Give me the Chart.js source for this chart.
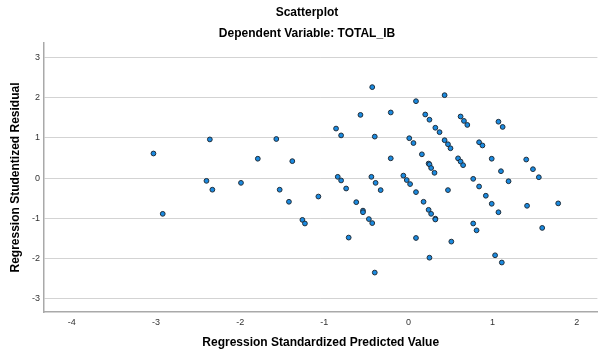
<!DOCTYPE html>
<html>
<head>
<meta charset="utf-8">
<script src="https://cdn.jsdelivr.net/npm/chart.js@4.4.1/dist/chart.umd.min.js"></script>
<style>
  body { margin: 0; background: #fff; }
  #wrap { width: 601px; height: 357px; }
</style>
</head>
<body>
<div id="wrap"><canvas id="scatterChart" width="601" height="357"></canvas></div>
<script>
// values
var chartTitle = 'Scatterplot';
var chartSubtitle = 'Dependent Variable: TOTAL_IB';
var xTitle = 'Regression Standardized Predicted Value';
var yTitle = 'Regression Studentized Residual';

var predictedValues = [
  -2.36, -1.57, -3.03, -1.79, -1.38, -2.40, -2.33, -1.99, -1.53, -1.42, -1.07, -2.92, -1.26, -1.23,
  -0.43, 0.43, 0.09, -0.57, -0.21, 0.20, 0.25, 0.62, 0.66, 0.70, 1.07, 1.12, -0.86, -0.80, -0.40,
  0.32, 0.37, 0.01, 0.06, 0.43, 0.47, 0.50, 0.84, 0.88, -0.21, 0.16, 0.24, 0.25, 0.27, 0.31,
  0.59, 0.62, 0.65, 0.99, 1.40, 1.10, 1.48, 1.55,
  -0.84, -0.80, -0.74, -0.44, -0.39, -0.33, -0.06, -0.02, 0.02, 0.09, 0.18, 0.24, 0.27, 0.32, 0.32,
  0.47, 0.77, 0.84, 0.92, 0.99, 1.07, 1.19, 1.41, 1.78,
  -0.62, -0.54, -0.54, -0.47, -0.43, -0.71, 0.09, 0.51, 0.77, 0.81, 1.59, 0.25, 1.03, 1.11, -0.40
];
var studentizedResiduals = [
  0.96, 0.97, 0.61, 0.48, 0.42, -0.07, -0.29, -0.12, -0.29, -0.59, -0.46, -0.89, -1.04, -1.13,
  2.26, 2.06, 1.91, 1.57, 1.63, 1.58, 1.45, 1.53, 1.42, 1.32, 1.40, 1.27, 1.23, 1.06, 1.03,
  1.25, 1.14, 0.99, 0.87, 0.94, 0.84, 0.74, 0.89, 0.81, 0.49, 0.59, 0.36, 0.34, 0.25, 0.13,
  0.49, 0.41, 0.32, 0.48, 0.46, 0.17, 0.22, 0.02,
  0.03, -0.06, -0.26, 0.03, -0.12, -0.30, 0.06, -0.05, -0.15, -0.35, -0.59, -0.79, -0.89, -1.01, -1.03,
  -0.30, -0.02, -0.21, -0.44, -0.64, -0.85, -0.08, -0.69, -0.63,
  -0.60, -0.81, -0.85, -1.02, -1.12, -1.48, -1.49, -1.58, -1.13, -1.30, -1.24, -1.98, -1.92, -2.10, -2.35
];

var points = predictedValues.map((x, i) => ({ x: x, y: studentizedResiduals[i] }));

var fontFamily = '"Liberation Sans", Arial, sans-serif';

// chart and dependent-variable titles, drawn above the plot area
var titlePlugin = {
  id: 'spssTitles',
  afterDraw(chart) {
    var ctx = chart.ctx;
    ctx.save();
    ctx.fillStyle = '#000';
    ctx.textAlign = 'center';
    ctx.textBaseline = 'middle';
    ctx.font = 'bold 12px ' + fontFamily;
    ctx.fillText(chartTitle, 307, 13);
    ctx.fillText(chartSubtitle, 307, 34);
    ctx.restore();
  }
};

var scatterChart = new Chart(document.getElementById('scatterChart'), {
  type: 'scatter',
  data: {
    datasets: [{
      label: 'Residuals',
      data: points,
      backgroundColor: '#1a8ae0',
      borderColor: '#1f2d3a',
      borderWidth: 1,
      pointRadius: 2.4,
      pointHoverRadius: 2.6
    }]
  },
  options: {
    responsive: false,
    animation: false,
    layout: { padding: { top: 43, left: 0, right: 0, bottom: 0 } },
    plugins: {
      legend: { display: false },
      tooltip: { enabled: false }
    },
    scales: {
      x: {
        type: 'linear',
        min: -4.331,
        max: 2.246,
        afterFit: function (scale) { scale.height = 45; },
        grid: { display: false, drawTicks: false },
        border: { display: true, color: '#a9a9a9', width: 1.5 },
        ticks: {
          stepSize: 1,
          includeBounds: false,
          padding: 5,
          color: '#333',
          font: { family: fontFamily, size: 9 }
        },
        title: {
          display: true,
          text: xTitle,
          color: '#000',
          font: { family: fontFamily, size: 12, weight: 'bold' },
          padding: { top: 0, bottom: 7 }
        }
      },
      y: {
        type: 'linear',
        min: -3.33,
        max: 3.357,
        afterFit: function (scale) { scale.width = 44; },
        grid: { color: '#d3d3d3', lineWidth: 1, drawTicks: false },
        border: { display: true, color: '#a9a9a9', width: 1.5 },
        ticks: {
          stepSize: 1,
          includeBounds: false,
          padding: 4,
          color: '#333',
          font: { family: fontFamily, size: 9 }
        },
        title: {
          display: true,
          text: yTitle,
          color: '#000',
          font: { family: fontFamily, size: 12, weight: 'bold' },
          padding: { top: 8, bottom: 0 }
        }
      }
    }
  },
  plugins: [titlePlugin]
});
</script>
</body>
</html>
